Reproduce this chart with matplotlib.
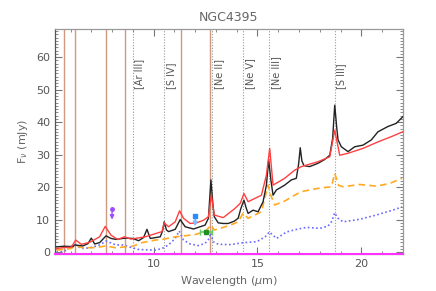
import matplotlib
matplotlib.use("Agg")
import matplotlib.pyplot as plt
from matplotlib.ticker import MultipleLocator

## Données

# spectre observé (noir)
wl_obs = [5.32, 5.69, 6.12, 6.20, 6.60, 6.84, 7.00, 7.16, 7.40, 7.71, 7.95, 8.19, 8.51,
          8.66, 8.99, 9.28, 9.52, 9.68, 9.84, 10.32, 10.43, 10.51, 10.62, 10.72, 11.04,
          11.28, 11.52, 11.92, 12.24, 12.48, 12.64, 12.76, 12.85, 12.92, 13.11, 13.35,
          13.59, 13.88, 14.07, 14.20, 14.35, 14.46, 14.55, 14.79, 15.03, 15.27, 15.43,
          15.54, 15.65, 15.75, 15.91, 16.31, 16.63, 16.87, 16.98, 17.06, 17.14, 17.24,
          17.51, 17.91, 18.24, 18.48, 18.62, 18.72, 18.82, 18.88, 19.04, 19.36, 19.68,
          20.08, 20.48, 20.80, 21.27, 21.68, 21.99]
f_obs = [1.6, 1.8, 1.7, 2.2, 1.9, 2.6, 4.3, 2.5, 2.9, 5.0, 4.2, 3.9, 4.2,
         4.3, 4.2, 3.5, 4.5, 7.0, 4.2, 4.7, 6.5, 9.3, 6.8, 6.3, 7.0,
         10.0, 7.8, 7.1, 7.8, 8.3, 10.4, 22.2, 15.0, 10.9, 9.0, 8.8,
         8.8, 9.5, 10.4, 13.4, 16.0, 13.5, 11.9, 12.9, 12.4, 15.5, 20.6,
         28.3, 22.0, 17.5, 19.1, 20.6, 22.2, 22.7, 27.0, 32.1, 28.0, 26.6,
         26.3, 27.3, 28.5, 29.8, 35.0, 45.2, 38.0, 34.5, 32.4, 30.9, 32.4,
         32.9, 34.5, 37.0, 38.6, 39.6, 41.6]

# modèle total (rouge)
wl_mod = [5.32, 5.69, 6.04, 6.25, 6.52, 6.92, 7.40, 7.67, 7.95, 8.27, 8.60, 8.91, 9.60,
          10.40, 10.51, 10.72, 11.04, 11.25, 11.44, 11.76, 12.07, 12.40, 12.64, 12.78,
          12.92, 13.35, 13.91, 14.17, 14.35, 14.55, 15.19, 15.43, 15.59, 15.75, 16.31,
          16.79, 17.11, 17.91, 18.48, 18.72, 18.96, 19.36, 20.08, 20.80, 21.44, 21.99]
f_mod = [1.1, 1.4, 1.5, 3.7, 2.4, 3.0, 4.7, 7.9, 5.2, 3.9, 4.7, 4.0, 4.7,
         6.3, 9.0, 7.8, 9.3, 12.7, 10.4, 8.8, 9.0, 9.8, 10.9, 17.5,
         11.4, 10.6, 13.4, 15.0, 18.0, 15.5, 17.5, 23.7, 31.9, 20.6, 22.7,
         25.2, 26.3, 27.8, 29.3, 37.5, 29.8, 30.4, 31.9, 33.9, 35.5, 37.0]

# composante tirets (orange)
wl_or = [5.32, 6.02, 6.27, 6.60, 7.24, 7.71, 8.19, 8.61, 8.99, 9.44, 10.08, 10.51,
         11.04, 11.36, 12.00, 12.48, 12.76, 12.92, 13.21, 13.69, 14.07, 14.31, 14.55,
         15.19, 15.51, 15.61, 15.83, 16.31, 16.79, 17.11, 17.91, 18.56, 18.72, 18.91,
         19.12, 19.92, 20.72, 21.36, 21.96]
f_or = [0.6, 1.1, 1.9, 1.3, 1.4, 1.9, 1.3, 1.6, 1.8, 2.9, 3.7, 4.0,
        4.7, 4.9, 5.4, 6.3, 8.3, 6.8, 7.3, 8.3, 9.3, 12.0, 10.4,
        12.4, 20.6, 18.0, 14.5, 15.7, 17.5, 18.6, 19.6, 20.1, 24.2, 20.5,
        20.1, 20.8, 20.3, 21.1, 22.7]

# composante pointillés (bleu)
wl_bl = [5.32, 5.69, 6.20, 6.52, 6.92, 7.40, 7.71, 8.19, 8.51, 8.99, 9.28, 10.08,
         10.40, 10.72, 11.04, 11.23, 11.44, 11.76, 12.16, 12.48, 12.68, 12.75, 12.87,
         13.11, 13.69, 14.32, 14.97, 15.37, 15.57, 15.92, 16.40, 16.89, 17.36, 18.00,
         18.40, 18.58, 18.72, 18.86, 19.12, 19.92, 20.72, 21.51, 21.96]
f_bl = [0.0, 0.2, 2.4, 1.1, 1.3, 2.2, 3.4, 2.2, 2.2, 1.3, 0.8, 0.6,
        1.1, 2.2, 4.2, 6.5, 3.7, 2.5, 2.0, 2.7, 4.2, 5.9, 3.2,
        2.4, 2.3, 2.9, 3.2, 4.7, 6.2, 4.2, 6.2, 7.0, 7.6, 7.3,
        8.0, 9.5, 12.1, 10.5, 9.3, 10.1, 11.4, 12.9, 13.9]

# bandes PAH et raies fines
pah_bands = [5.7, 6.2, 7.7, 8.6, 11.3, 12.7]
raies_wl = [8.99, 10.51, 12.81, 14.32, 15.55, 18.71]
raies_nom = ['[Ar III]', '[S IV]', '[Ne II]', '[Ne V]', '[Ne III]', '[S III]']

# points photométriques
pt_violet = (8.0, 13.3, 10.0)   # x, haut, bas de la fleche
pt_bleu = (12.0, 11.1, 7.9)
pt_vert = (12.5, 6.1, 12.25, 12.8)

## Figure

gris = '#777777'
plt.close("all")
fig = plt.figure(figsize=(4.36, 2.91), dpi=100)
ax = fig.add_axes([0.126, 0.127, 0.798, 0.773])

for w in pah_bands:
    ax.axvline(w, color='#d09a80', lw=1.0, zorder=1)
for w, nom in zip(raies_wl, raies_nom):
    ax.axvline(w, color='#999999', lw=0.8, ls=(0, (1, 1.5)), zorder=1)
    ax.text(w + 0.33, 50.3, nom, rotation=90, ha='center', va='bottom',
            fontsize=7, color='#555555')

ax.plot(wl_bl, f_bl, color='#6b6bff', lw=1.2, ls=(0, (1, 1.5)), zorder=3)
ax.plot(wl_or, f_or, color='#ffaa22', lw=1.2, ls=(0, (4, 2.5)), zorder=3)
ax.plot(wl_obs, f_obs, color='#222222', lw=1.0, zorder=4)
ax.plot(wl_mod, f_mod, color='#ff4040', lw=1.0, zorder=5)

# violet : limite avec fleche
x, h, b = pt_violet
ax.annotate('', xy=(x, b), xytext=(x, h),
            arrowprops=dict(arrowstyle='-|>', color='#9b4dff', lw=1.0,
                            mutation_scale=6, shrinkA=0, shrinkB=0), zorder=6)
ax.plot([x], [h], marker='o', ms=2.5, color='#9b4dff', zorder=6)

# bleu
x, h, b = pt_bleu
ax.annotate('', xy=(x, b), xytext=(x, h),
            arrowprops=dict(arrowstyle='-|>', color='#7fbfff', lw=1.2,
                            mutation_scale=6, shrinkA=0, shrinkB=0), zorder=6)
ax.plot([x], [h], marker='s', ms=3.5, color='#2a8cff', zorder=6)

# vert
x, y, x0, x1 = pt_vert
ax.errorbar([x], [y], xerr=[[x - x0], [x1 - x]], fmt='s', ms=3.5, color='#1f8f1f',
            ecolor='#66cc66', elinewidth=1.2, capsize=2, zorder=6)

ax.axhline(-0.6, color='#ff33ff', lw=1.5, zorder=7, clip_on=False)

ax.set_xlim(5.25, 22.0)
ax.set_ylim(-0.6, 68.6)

ax.xaxis.set_major_locator(MultipleLocator(5))
ax.xaxis.set_minor_locator(MultipleLocator(1))
ax.yaxis.set_major_locator(MultipleLocator(10))
ax.yaxis.set_minor_locator(MultipleLocator(1))
ax.tick_params(which='both', direction='in', top=True, right=True,
               color=gris, labelcolor='#555555', labelsize=8)
ax.tick_params(which='major', length=5, width=0.8)
ax.tick_params(which='minor', length=2.5, width=0.6)
for s in ax.spines.values():
    s.set_color('#999999')
    s.set_linewidth(0.9)
ax.spines['left'].set_color('#555555')

ax.set_title('NGC4395', fontsize=9, color='#666666', pad=6)
ax.set_xlabel('Wavelength ($\\mu$m)', fontsize=8, color='#666666')
ax.set_ylabel('F$_\\nu$ (mJy)', fontsize=8, color='#666666')

plt.savefig("out.png", dpi=100)
